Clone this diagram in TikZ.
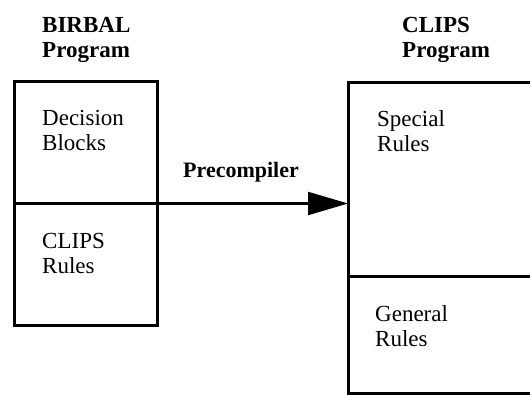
\documentclass[tikz,border=0pt]{standalone}
\usepackage{fontspec}
\setmainfont{Liberation Serif}
\usetikzlibrary{arrows.meta}
\begin{document}
\begin{tikzpicture}[x=1pt,y=-1pt,
  boxstyle/.style={draw, line width=3pt, rectangle, inner sep=0pt, outer sep=0pt},
  lbl/.style={anchor=north west, inner sep=0pt, align=left, font=\fontsize{23}{25.5}\selectfont},
  head/.style={lbl, font=\fontsize{23}{25.5}\selectfont\bfseries},
  divider/.style={line width=3pt},
  conn/.style={line width=2.2pt, -{Triangle[length=40pt,width=23pt]}}]
\useasboundingbox (0,0) rectangle (530,395);
\clip (0,0) rectangle (530,395);
\node[boxstyle, minimum width=143pt, minimum height=243pt] (lbox) at (85.5,203.5) {};
\node[boxstyle, minimum width=197pt, minimum height=310pt] (rbox) at (446.5,238) {};
\coordinate (rdivl) at (348,277);
\draw[divider] (lbox.west) -- (lbox.east);
\draw[divider] (rdivl) -- (rdivl -| rbox.east);
\draw[conn] (lbox.east) -- (lbox.east -| rbox.west);
\node[head] (lhead) at (42,17) {BIRBAL\\Program};
\node[head] (rhead) at (402,17) {CLIPS\\Program};
\node[head, font=\fontsize{22}{25}\selectfont\bfseries] (pre) at (183,162) {Precompiler};
\node[lbl] (dec) at (42,110) {Decision\\Blocks};
\node[lbl] (crul) at (42,233) {CLIPS\\Rules};
\node[lbl] (spec) at (377,110) {Special\\Rules};
\node[lbl] (gen) at (375,305) {General\\Rules};
\end{tikzpicture}
\end{document}
